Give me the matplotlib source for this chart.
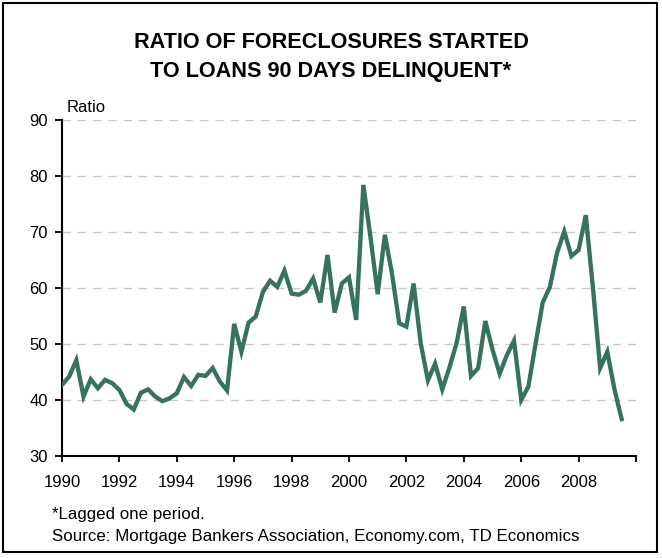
import numpy as np
import matplotlib
matplotlib.use("Agg")
import matplotlib.pyplot as plt
from matplotlib.patches import Rectangle

plt.rcParams["font.family"] = ["Liberation Sans", "DejaVu Sans"]

# quarterly ratio, 1990 Q1 - 2009 Q3
start_year = 1990
ratio = [
    42.7, 44.2, 47.1, 40.6, 43.7, 42.1, 43.6, 43.0, 41.8, 39.3,
    38.3, 41.3, 41.9, 40.6, 39.8, 40.3, 41.2, 44.1, 42.5, 44.5,
    44.3, 45.7, 43.3, 41.7, 53.6, 48.6, 53.8, 54.9, 59.3, 61.3,
    60.2, 63.1, 59.0, 58.8, 59.5, 61.7, 57.4, 65.9, 55.6, 60.8,
    61.9, 54.3, 78.4, 69.0, 58.9, 69.5, 62.5, 53.7, 53.1, 60.8,
    50.1, 43.5, 46.5, 41.9, 45.8, 50.2, 56.7, 44.3, 45.7, 54.1,
    49.0, 44.7, 48.0, 50.6, 40.0, 42.4, 50.0, 57.4, 60.2, 66.3,
    70.1, 65.7, 66.8, 73.0, 60.0, 45.7, 48.6, 41.9, 36.6,
]
x_ticks = list(range(1990, 2011, 2))
x_labels = [str(y) for y in range(1990, 2010, 2)] + [""]
y_ticks = [30, 40, 50, 60, 70, 80, 90]

years = start_year + np.arange(len(ratio)) / 4.0

fig = plt.figure(figsize=(6.62, 5.58), dpi=100)
ax = fig.add_axes([62 / 662, 1 - 456 / 558, 574 / 662, 336 / 558])

for v in y_ticks[1:]:
    ax.axhline(v, color="#c8c8c8", lw=1.0, ls=(0, (6, 5)), zorder=1)

ax.plot(years, ratio, color="#35735a", lw=3.1, solid_joinstyle="miter", zorder=3)

ax.set_xlim(1990, 2010)
ax.set_ylim(30, 90)
ax.set_xticks(x_ticks)
ax.set_xticklabels(x_labels)
ax.set_yticks(y_ticks)
ax.tick_params(axis="both", labelsize=12, direction="out", width=1.3, colors="black")
ax.tick_params(axis="x", length=4.5, pad=9)
ax.tick_params(axis="y", length=5, pad=5)
ax.spines["top"].set_visible(False)
ax.spines["right"].set_visible(False)
ax.spines["left"].set_linewidth(1.5)
ax.spines["bottom"].set_linewidth(1.5)

fig.text(0.5, 1 - 43 / 558, "RATIO OF FORECLOSURES STARTED", ha="center", va="center",
         fontsize=15.6, fontweight="bold")
fig.text(0.5, 1 - 71 / 558, "TO LOANS 90 DAYS DELINQUENT*", ha="center", va="center",
         fontsize=15.6, fontweight="bold")
fig.text(67 / 662, 1 - 108 / 558, "Ratio", ha="left", va="center", fontsize=12)

fig.text(52 / 662, 1 - 514 / 558, "*Lagged one period.", ha="left", va="center", fontsize=12.2)
fig.text(52 / 662, 1 - 537 / 558, "Source: Mortgage Bankers Association, Economy.com, TD Economics",
         ha="left", va="center", fontsize=12.2)

fig.patches.append(Rectangle((3 / 662, 6 / 558), 654 / 662, 549 / 558, transform=fig.transFigure,
                             fill=False, edgecolor="black", lw=1.5))

fig.savefig("out.png", dpi=100)
